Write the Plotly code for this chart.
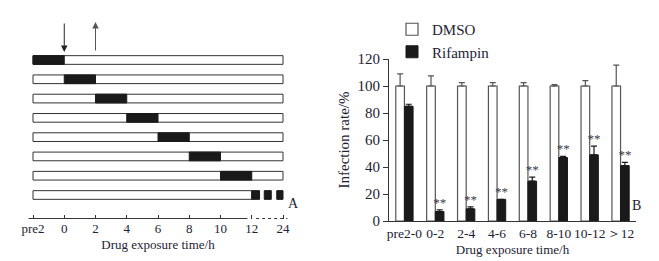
import plotly.graph_objects as go

# ---------------- Panel A data ----------------
timeline_pos = [-2, 0, 2, 4, 6, 8, 10, 12, 14]
timeline_labels = ["pre2", "0", "2", "4", "6", "8", "10", "12", "24"]
rows = [1, 2, 3, 4, 5, 6, 7, 8]
row_start = [-2, -2, -2, -2, -2, -2, -2, -2]
row_end = [14, 14, 14, 14, 14, 14, 14, 12]
exposure_rows = [1, 2, 3, 4, 5, 6, 7]
exposure_start = [-2, 0, 2, 4, 6, 8, 10]
exposure_end = [0, 2, 4, 6, 8, 10, 12]
pulse_start = [12, 12.8, 13.6]
pulse_end = [12.5, 13.25, 14]
pulse_row = 8

# ---------------- Panel B data ----------------
categories = ["pre2-0", "0-2", "2-4", "4-6", "6-8", "8-10", "10-12", "＞12"]
dmso = [100, 100, 100, 100, 100, 100, 100, 100]
dmso_err = [9, 7.5, 2.5, 2.5, 2.5, 1, 4, 15.5]
rifampin = [85, 7, 9, 16, 29.5, 47, 49, 41]
rifampin_err = [1.5, 1.2, 1.5, 0, 3, 0.8, 6.5, 2.5]
significance = ["", "**", "**", "**", "**", "**", "**", "**"]

# page body has an 8px margin; size the figure to fit the window
OFF = 8
W, H = 659 - OFF, 261 - OFF
FONT = "Liberation Serif"
TXT = "#1e2235"
BLACK = "#1a1a1a"

fig = go.Figure()

# Panel A: white timeline bars
fig.add_trace(go.Bar(
    y=rows, x=[e - s for s, e in zip(row_start, row_end)], base=row_start,
    orientation="h", width=0.45, offsetgroup="A",
    marker=dict(color="white", line=dict(color="#333333", width=1)),
    xaxis="x", yaxis="y", showlegend=False, hoverinfo="skip"))
# exposure windows
fig.add_trace(go.Bar(
    y=exposure_rows, x=[e - s for s, e in zip(exposure_start, exposure_end)],
    base=exposure_start, orientation="h", width=0.45, offsetgroup="A",
    marker=dict(color=BLACK, line=dict(color=BLACK, width=1)),
    xaxis="x", yaxis="y", showlegend=False, hoverinfo="skip"))
# continuous pulses
fig.add_trace(go.Bar(
    y=[pulse_row] * len(pulse_start),
    x=[e - s for s, e in zip(pulse_start, pulse_end)],
    base=pulse_start, orientation="h", width=0.45, offsetgroup="A",
    marker=dict(color=BLACK, line=dict(color=BLACK, width=1)),
    xaxis="x", yaxis="y", showlegend=False, hoverinfo="skip"))
# timeline axis line (solid then dotted)
axis_y = 9.22
fig.add_trace(go.Scatter(
    x=[timeline_pos[0], timeline_pos[-2]], y=[axis_y, axis_y], mode="lines",
    line=dict(color="#333333", width=1), xaxis="x", yaxis="y",
    showlegend=False, hoverinfo="skip", cliponaxis=False))
fig.add_trace(go.Scatter(
    x=[timeline_pos[-2], timeline_pos[-1]], y=[axis_y, axis_y], mode="lines",
    line=dict(color="#333333", width=1, dash="dot"), xaxis="x", yaxis="y",
    showlegend=False, hoverinfo="skip", cliponaxis=False))

# Panel B bars
fig.add_trace(go.Bar(
    x=categories, y=dmso, name="DMSO", offsetgroup="D",
    marker=dict(color="white", line=dict(color="#555555", width=1.2)),
    error_y=dict(type="data", array=dmso_err, arrayminus=[0] * 8,
                 color="#555555", thickness=1.2, width=3),
    xaxis="x2", yaxis="y2", hoverinfo="skip"))
fig.add_trace(go.Bar(
    x=categories, y=rifampin, name="Rifampin", offsetgroup="R",
    marker=dict(color=BLACK, line=dict(color=BLACK, width=1)),
    error_y=dict(type="data", array=rifampin_err, arrayminus=[0] * 8,
                 color=BLACK, thickness=1.2, width=3),
    xaxis="x2", yaxis="y2", hoverinfo="skip"))
# significance marks
fig.add_trace(go.Scatter(
    x=categories, y=[v + e for v, e in zip(rifampin, rifampin_err)],
    text=significance, mode="text", textposition="top center",
    offsetgroup="R",
    textfont=dict(family=FONT, size=13, color="#3a3a48"),
    xaxis="x2", yaxis="y2", showlegend=False, hoverinfo="skip",
    cliponaxis=False))

# geometry helpers (pixel coords of the 659x261 window)
def fx(px):
    return (px - OFF) / W

def fy(py):
    return 1 - (py - OFF) / H

ax_l, ax_r = 28, 288
ppu = (283 - 33) / 16.0
rowpx = 19.29
fig.update_layout(
    width=W, height=H,
    margin=dict(l=0, r=0, t=0, b=0, autoexpand=False),
    paper_bgcolor="white", plot_bgcolor="white",
    font=dict(family=FONT, size=13, color=TXT),
    barmode="group", bargap=0.44, bargroupgap=0, scattermode="group",
    showlegend=True,
    legend=dict(x=fx(392), y=fy(13), xanchor="left", yanchor="top",
                font=dict(family=FONT, size=15, color=TXT),
                bgcolor="rgba(0,0,0,0)", tracegroupgap=0, itemwidth=30),
    xaxis=dict(domain=[fx(ax_l), fx(ax_r)],
               range=[-2 - (33 - ax_l) / ppu, 14 + (ax_r - 283) / ppu],
               tickvals=timeline_pos, ticktext=timeline_labels,
               ticks="inside", ticklen=4, tickcolor="#333333", tickwidth=1,
               showline=False, showgrid=False, zeroline=False,
               automargin=False,
               tickfont=dict(family=FONT, size=13, color=TXT),
               title=dict(text="Drug exposure time/h", standoff=4,
                          font=dict(family=FONT, size=13, color=TXT)),
               fixedrange=True),
    yaxis=dict(domain=[fy(219), fy(50)],
               range=[8 + (219 - 195) / rowpx, 1 - (60 - 50) / rowpx],
               visible=False, fixedrange=True, automargin=False),
    xaxis2=dict(domain=[fx(389), fx(636)], range=[-0.5, 7.5],
                type="category", automargin=False, tickangle=0,
                anchor="y2", showline=True, linecolor="#333333",
                ticks="", showgrid=False, zeroline=False,
                tickfont=dict(family=FONT, size=13.5, color=TXT),
                title=dict(text="Drug exposure time/h", standoff=4,
                           font=dict(family=FONT, size=13, color=TXT)),
                fixedrange=True),
    yaxis2=dict(domain=[fy(221), fy(59)], range=[0, 120], anchor="x2",
                tickvals=[0, 20, 40, 60, 80, 100, 120], automargin=False,
                showline=True, linecolor="#333333", ticks="outside",
                ticklen=5, tickcolor="#333333", showgrid=False,
                zeroline=False,
                tickfont=dict(family=FONT, size=15, color=TXT),
                title=dict(text="Infection rate/%", standoff=4,
                           font=dict(family=FONT, size=15, color=TXT)),
                fixedrange=True),
    annotations=[
        dict(x=0, y=fy(52), xref="x", yref="paper", ax=0, ay=-30,
             showarrow=True, arrowhead=2, arrowsize=1.3, arrowwidth=1,
             arrowcolor="#222222", text=""),
        dict(x=2, y=fy(22), xref="x", yref="paper", ax=0, ay=30,
             showarrow=True, arrowhead=2, arrowsize=1.3, arrowwidth=1,
             arrowcolor="#555555", text=""),
        dict(x=fx(293), y=fy(213), xref="paper", yref="paper", text="A",
             showarrow=False, font=dict(family=FONT, size=14, color=TXT)),
        dict(x=fx(643), y=fy(215), xref="paper", yref="paper", text="B",
             showarrow=False, font=dict(family=FONT, size=14, color=TXT)),
    ],
)

fig.write_html("out.html")
